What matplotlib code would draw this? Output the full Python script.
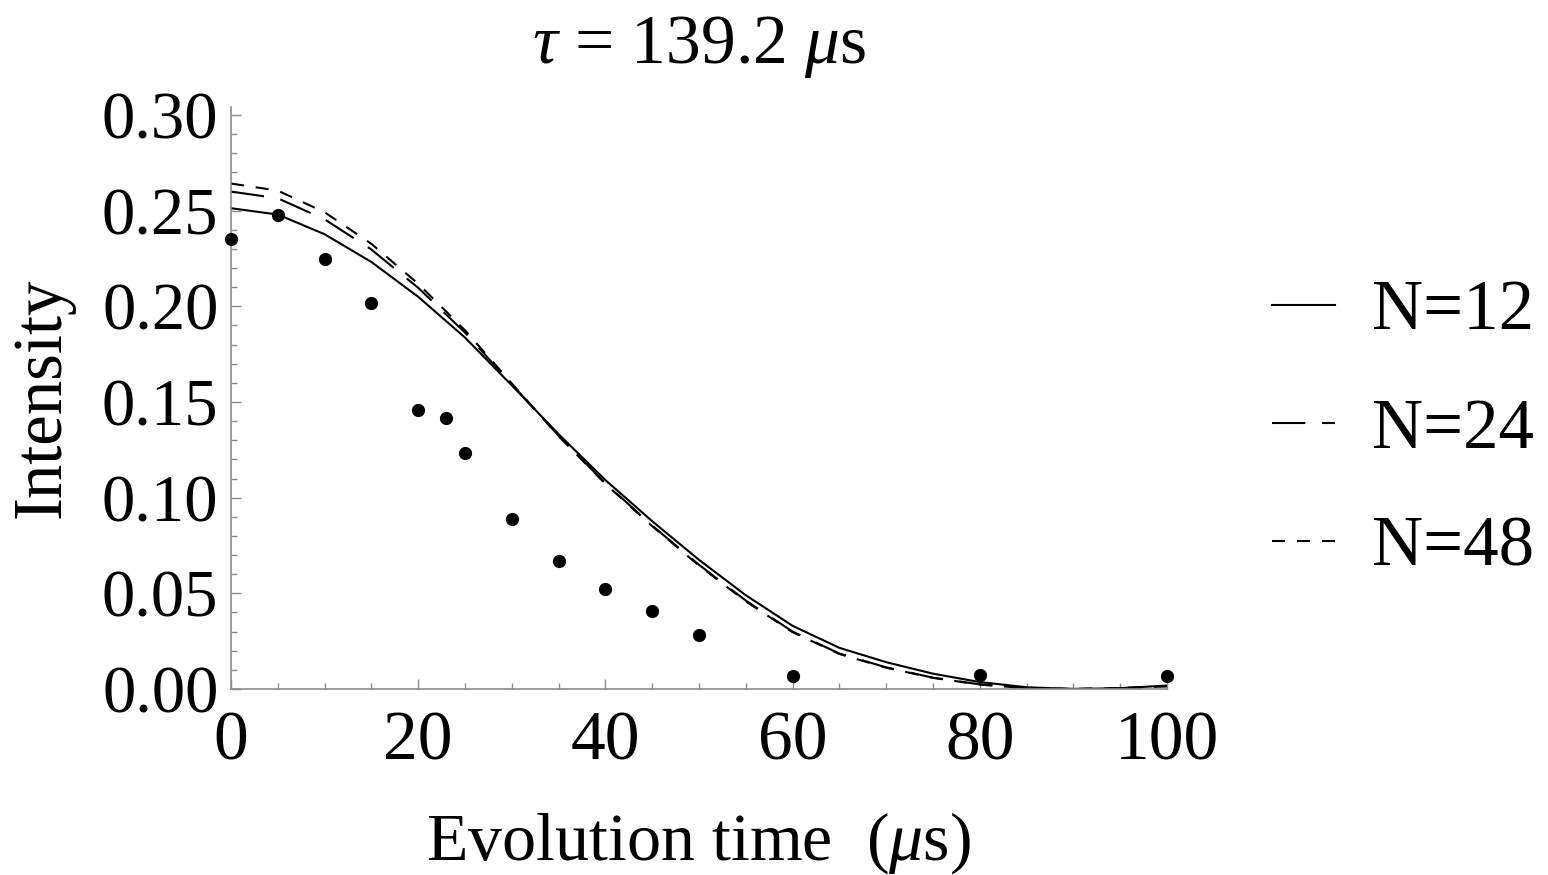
import matplotlib
matplotlib.use("Agg")
import matplotlib.pyplot as plt
from matplotlib.ticker import MultipleLocator

plt.rcParams['font.family'] = ['Liberation Serif', 'DejaVu Serif']
plt.rcParams['mathtext.fontset'] = 'custom'
plt.rcParams['mathtext.rm'] = 'Liberation Serif'
plt.rcParams['mathtext.it'] = 'Liberation Serif:italic'
plt.rcParams['lines.scale_dashes'] = False

# measured intensities (dots)
t_data = [0, 5, 10, 15, 20, 23, 25, 30, 35, 40, 45, 50, 60, 80, 100]
i_data = [0.235, 0.248, 0.225, 0.202, 0.146, 0.1415, 0.1235, 0.0888, 0.067,
          0.0525, 0.0405, 0.0282, 0.0068, 0.0075, 0.0068]

# simulated curves, every 5 us
t_curve = [0, 5, 10, 15, 20, 25, 30, 35, 40, 45, 50,
           55, 60, 65, 70, 75, 80, 85, 90, 95, 100]
n12 = [0.2513, 0.2480, 0.2377, 0.2232, 0.2050, 0.1837, 0.1587, 0.1332, 0.1092, 0.0877, 0.0675,
       0.0490, 0.0330, 0.0215, 0.0140, 0.0080, 0.0036, 0.0009, 0.0000, 0.0004, 0.0018]
n24 = [0.2600, 0.2565, 0.2455, 0.2297, 0.2097, 0.1863, 0.1593, 0.1324, 0.1075, 0.0854, 0.0649,
       0.0462, 0.0300, 0.0185, 0.0113, 0.0059, 0.0024, 0.0005, 0.0000, 0.0004, 0.0015]
n48 = [0.2642, 0.2605, 0.2492, 0.2327, 0.2118, 0.1875, 0.1597, 0.1322, 0.1072, 0.0851, 0.0645,
       0.0458, 0.0297, 0.0183, 0.0111, 0.0058, 0.0023, 0.0004, 0.0000, 0.0004, 0.0014]
labels = ['N=12', 'N=24', 'N=48']

fig = plt.figure(figsize=(15.48, 8.75), dpi=100)
ax = fig.add_axes([0.1492, 0.2126, 0.6047, 0.6651])

ax.plot(t_curve, n12, color='black', lw=1.5, label=labels[0])
ax.plot(t_curve, n24, color='black', lw=1.5, linestyle=(0, (24, 12)), label=labels[1])
ax.plot(t_curve, n48, color='black', lw=1.5, linestyle=(0, (9.4, 8.6)), label=labels[2])
ax.plot(t_data, i_data, 'o', color='black', ms=8.5, clip_on=False, zorder=5)

ax.set_xlim(0, 100)
ax.set_ylim(0, 0.3042)
ax.xaxis.set_major_locator(MultipleLocator(20))
ax.xaxis.set_minor_locator(MultipleLocator(5))
ax.yaxis.set_major_locator(MultipleLocator(0.05))
ax.yaxis.set_minor_locator(MultipleLocator(0.01))
ax.yaxis.set_major_formatter(lambda v, p: '%.2f' % v)

for s in ['top', 'right']:
    ax.spines[s].set_visible(False)
for s in ['left', 'bottom']:
    ax.spines[s].set_color('#8a8a8a')
    ax.spines[s].set_linewidth(1.2)
ax.tick_params(which='both', direction='in', color='#8a8a8a', width=1)
ax.tick_params(which='major', length=7)
ax.tick_params(which='minor', length=4)
ax.tick_params(axis='y', pad=9, labelsize=48)
ax.tick_params(axis='x', pad=16, labelsize=50)

fig.text(0.4515, 1 - 47 / 875, r'$\tau$ = 139.2 $\mu$s', fontsize=50, ha='center', va='center')
fig.text(0.451, 0.0366, r'Evolution time  ($\mu$s)', fontsize=49, ha='center', va='center')
fig.text(0.0278, 0.545, 'Intensity', fontsize=49.5, rotation=90, ha='center', va='center')

ax.legend(loc='center left', bbox_to_anchor=(1272 / 1548, 1 - 430 / 875),
          bbox_transform=fig.transFigure, frameon=False, fontsize=51,
          handlelength=0.89, handletextpad=0.52, labelspacing=0.75,
          borderpad=0, borderaxespad=0)

fig.savefig('out.png', dpi=100)
